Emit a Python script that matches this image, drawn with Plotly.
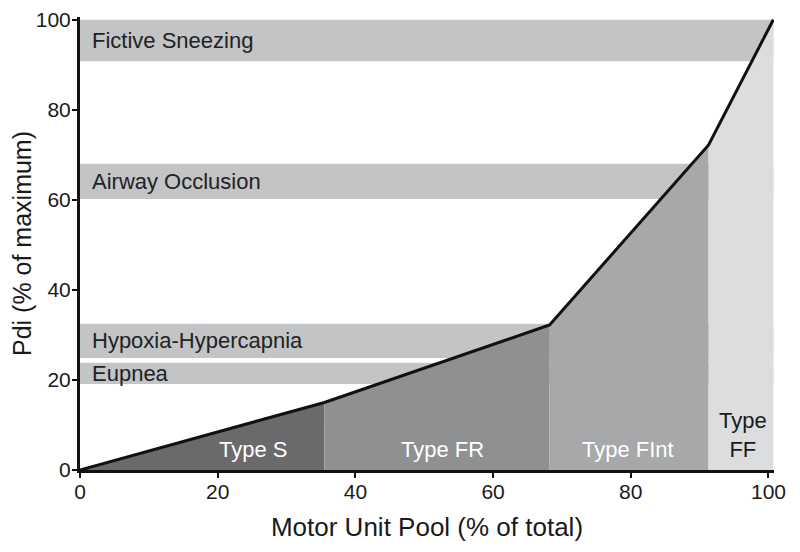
import plotly.graph_objects as go

# Curve: Pdi vs recruited motor unit pool
curve_x = [0, 35.5, 68.2, 91.3, 100.7]
curve_y = [0, 15.0, 32.2, 72.2, 100.0]

# Motor unit types (regions under the curve)
type_names = ["Type S", "Type FR", "Type FInt", "Type<br>FF"]
type_label_x = [25.1, 52.6, 79.6, 96.3]
type_label_y = [4.6, 4.6, 4.6, 7.7]

# Behaviours (horizontal bands)
band_names = ["Fictive Sneezing", "Airway Occlusion", "Hypoxia-Hypercapnia", "Eupnea"]
band_low = [90.8, 60.2, 24.9, 19.1]
band_high = [100.0, 68.0, 32.5, 23.8]

x_ticks = [0, 20, 40, 60, 80, 100]
y_ticks = [0, 20, 40, 60, 80, 100]

region_colors = ["#6a6a6c", "#8f9092", "#a7a8aa", "#dcdddf"]
type_label_colors = ["white", "white", "white", "#1a1a1a"]
band_color = "#c3c4c6"
FONT = "Liberation Sans, Arial, Helvetica, sans-serif"

fig = go.Figure()

shapes = []
for lo, hi in zip(band_low, band_high):
    shapes.append(dict(type="rect", xref="x", yref="y", x0=0, x1=curve_x[-1],
                       y0=lo, y1=hi, fillcolor=band_color, line=dict(width=0),
                       layer="below"))

for i in range(4):
    fig.add_trace(go.Scatter(
        x=[curve_x[i], curve_x[i + 1]], y=[curve_y[i], curve_y[i + 1]],
        mode="lines", fill="tozeroy", fillcolor=region_colors[i],
        line=dict(width=0, color=region_colors[i]), hoverinfo="skip",
        showlegend=False))

fig.add_trace(go.Scatter(x=curve_x, y=curve_y, mode="lines",
                         line=dict(color="#111111", width=3),
                         showlegend=False, hoverinfo="skip"))

annotations = []
for name, lo, hi in zip(band_names, band_low, band_high):
    annotations.append(dict(x=1.5, y=(lo + hi) / 2, xref="x", yref="y",
                            text=name, showarrow=False, xanchor="left",
                            yanchor="middle",
                            font=dict(family=FONT, size=22, color="#222222")))
for name, lx, ly, c in zip(type_names, type_label_x, type_label_y, type_label_colors):
    annotations.append(dict(x=lx, y=ly, xref="x", yref="y", text=name,
                            showarrow=False, xanchor="center", yanchor="middle",
                            font=dict(family=FONT, size=22, color=c)))

fig.update_layout(
    width=792, height=544,
    margin=dict(l=72, r=26, t=9, b=82),
    plot_bgcolor="white", paper_bgcolor="white",
    shapes=shapes, annotations=annotations,
    font=dict(family=FONT, color="#1a1a1a"),
    xaxis=dict(range=[0, 100.8], tickvals=x_ticks, showgrid=False,
               zeroline=False, showline=True, linecolor="#111111", linewidth=3,
               ticks="outside", ticklen=5, tickwidth=2, tickcolor="#111111",
               tickfont=dict(size=21, family=FONT), automargin=False,
               ticklabelstandoff=-4, ticklabeloverflow="allow",
               title=dict(text="Motor Unit Pool (% of total)",
                          font=dict(size=26, family=FONT), standoff=16)),
    yaxis=dict(range=[0, 100.6], tickvals=y_ticks, showgrid=False,
               zeroline=False, showline=True, linecolor="#111111", linewidth=3,
               ticks="outside", ticklen=5, tickwidth=2, tickcolor="#111111",
               tickfont=dict(size=21, family=FONT), automargin=False,
               ticklabelstandoff=-3, ticklabeloverflow="allow",
               title=dict(text="Pdi (% of maximum)",
                          font=dict(size=25, family=FONT), standoff=12)),
)

fig.write_html("out.html")
